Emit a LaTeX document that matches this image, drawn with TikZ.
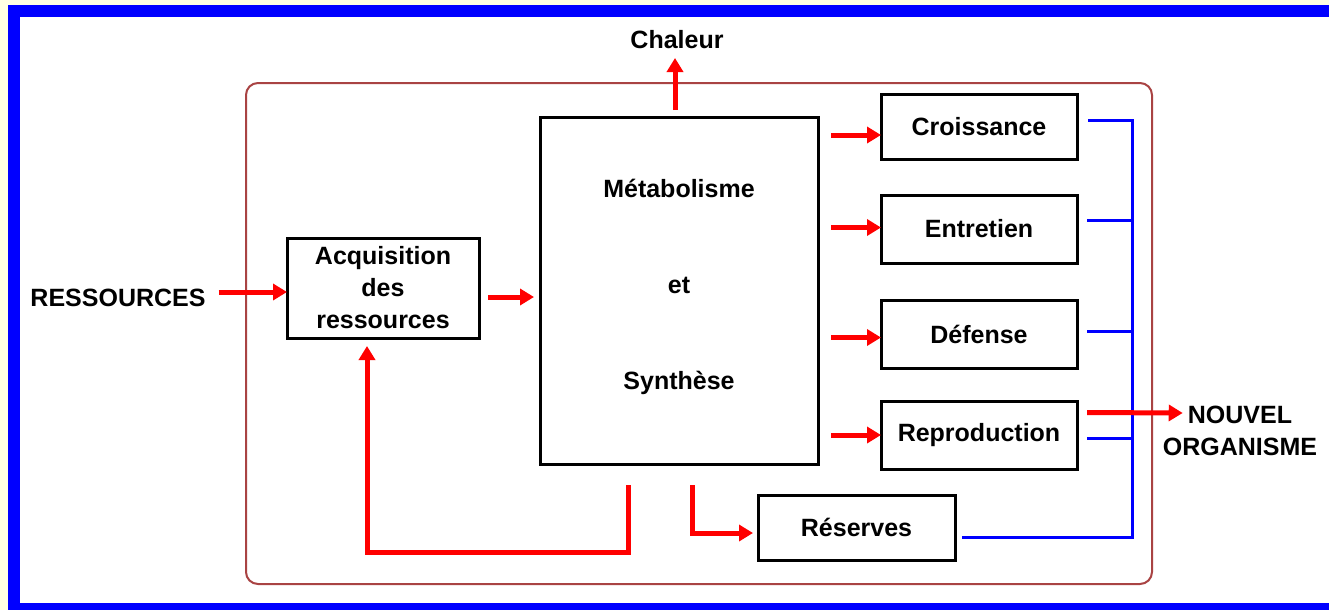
\documentclass[tikz,border=0pt]{standalone}
\usepackage{fontspec}
\setmainfont{Liberation Sans}
\usepackage{xcolor}
\usepackage{tikz}
\usetikzlibrary{positioning, arrows.meta}
\definecolor{cadrebleu}{HTML}{0000FF}
\definecolor{fondjaune}{HTML}{FFFFE3}
\definecolor{brunrouge}{HTML}{A94343}
\definecolor{flecherouge}{HTML}{FF0000}
\tikzset{
  boite/.style={draw=black, line width=3pt, inner sep=0pt, outer sep=0pt, align=center},
  fleche/.style={draw=flecherouge, line width=5pt, -{Triangle[length=14pt, width=16pt]}},
  liaison/.style={draw=cadrebleu, line width=3pt},
  texte/.style={inner sep=0pt, align=center}
}

\begin{document}
\begin{tikzpicture}[x=1pt, y=-1pt, font=\fontsize{25}{32}\selectfont\bfseries]
    \useasboundingbox (0,0) rectangle (1329,610);
    % fond et cadre
    \fill[fondjaune] (0,0) rectangle (1329,610);
    \fill[cadrebleu] (8,5) rectangle (1329,610);
    \fill[white] (20,17) rectangle (1329,603);
    \draw[brunrouge, line width=2pt, rounded corners=12pt] (246,83) rectangle (1152,584);

    % boites
    \node[boite, minimum width=192pt, minimum height=100pt] (acq) at (383,288) {Acquisition\\des\\ressources};
    \node[boite, minimum width=278pt, minimum height=347pt, text depth=12pt] (meta) at (679,290.5) {M\'etabolisme\\[64pt]et\\[64pt]Synth\`ese};
    \node[boite, minimum width=196pt, minimum height=65pt] (crois) at (979,126.5) {Croissance};
    \node[boite, minimum width=196pt, minimum height=68pt, below=36pt of crois] (entr) {Entretien};
    \node[boite, minimum width=196pt, minimum height=68pt, below=37pt of entr] (def) {D\'efense};
    \node[boite, minimum width=196pt, minimum height=68pt, below=33pt of def] (repro) {Reproduction};
    \node[boite, minimum width=197pt, minimum height=65pt] (res) at (856.5,527.5) {R\'eserves};

    % textes
    \node[texte] (ress) at (118,298) {RESSOURCES};
    \node[texte] (chaleur) at (677,40) {Chaleur};
    \node[texte] (nouvel) at (1240,431) {NOUVEL\\ORGANISME};

    % liaisons bleues
    \coordinate (bus) at ([xshift=55pt]crois.east);
    \coordinate (resfin) at ([xshift=7pt,yshift=-9.5pt]res.east);
    \draw[liaison] ([xshift=11pt,yshift=6.5pt]crois.east) -| (bus |- resfin) -- (resfin);
    \foreach \b/\d in {entr/8.5, def/2.5, repro/-3.5}
      \draw[liaison] ([xshift=10pt,yshift=\d pt]\b.east) -- ++(45,0);

    % fleches rouges
    \draw[fleche] ([xshift=13pt,yshift=6pt]ress.east) -- ([yshift=-4pt]acq.west);
    \draw[fleche] ([xshift=9pt,yshift=-9pt]acq.east) -- ([xshift=-6pt,yshift=-6.5pt]meta.west);
    \draw[fleche] ([xshift=-4pt,yshift=7pt]meta.north) -- ++(0,-52);
    \foreach \b/\d in {crois/-8.5, entr/1.5, def/-3.5, repro/0}
      \draw[fleche] ([xshift=-50pt,yshift=\d pt]\b.west) -- ([yshift=\d pt]\b.west);
    \draw[fleche] ([xshift=10pt,yshift=22.5pt]repro.east) -- ([xshift=20pt,yshift=18pt]nouvel.west);
    \draw[fleche] ([xshift=-51pt,yshift=-21pt]meta.south) -- ++(0,67) -| ([xshift=-16pt,yshift=-8pt]acq.south);
    \draw[fleche] ([xshift=13pt,yshift=-21pt]meta.south) |- ([xshift=-5pt,yshift=-5.5pt]res.west);
\end{tikzpicture}
\end{document}
